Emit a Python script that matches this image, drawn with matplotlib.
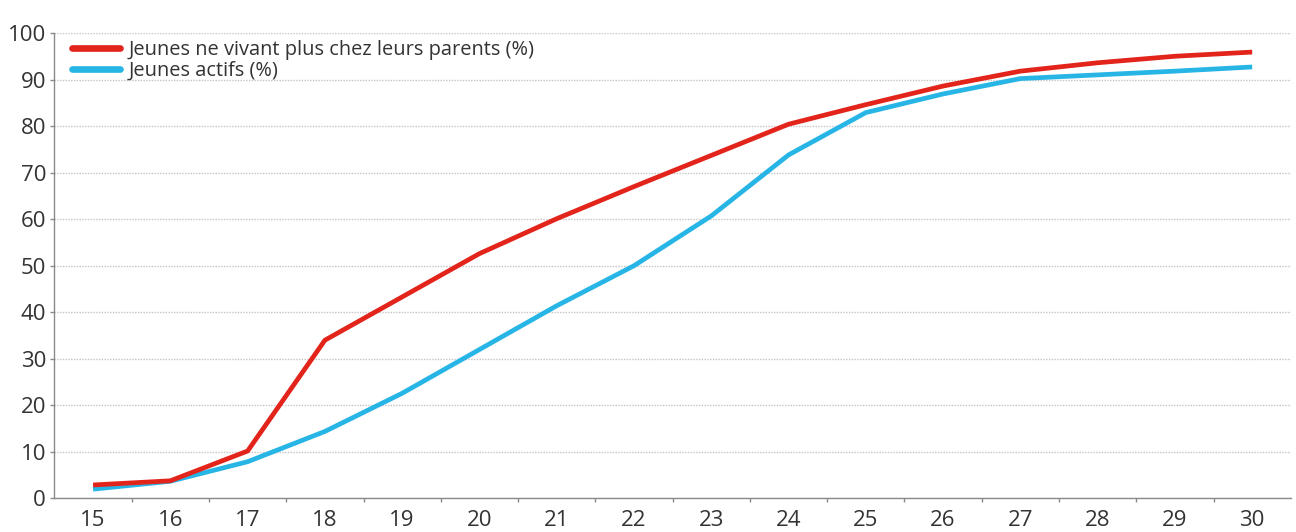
import numpy as np
import matplotlib
matplotlib.use("Agg")
import matplotlib.pyplot as plt
from matplotlib.ticker import FixedLocator

# Age (years)
ages = list(range(15, 31))

# Share of young people no longer living with their parents (%)
hors_parents = [2.9, 3.8, 10.2, 34.0, 43.3, 52.6, 60.1, 67.0, 73.7, 80.4,
                84.6, 88.6, 91.8, 93.6, 95.0, 95.9]

# Share of young people in the labour force (%)
actifs = [2.0, 3.7, 7.9, 14.4, 22.6, 32.0, 41.4, 50.0, 60.7, 73.8,
          82.9, 86.9, 90.2, 91.0, 91.8, 92.7]

serie_labels = ["Jeunes ne vivant plus chez leurs parents (%)", "Jeunes actifs (%)"]
y_ticks = list(range(0, 101, 10))

red = "#E2241B"
blue = "#27B5E6"
text_col = "#333333"
axis_col = "#8a8a8a"

plt.rcParams["font.family"] = ["Open Sans", "DejaVu Sans"]

fig = plt.figure(figsize=(12.96, 5.32), dpi=100)
ax = fig.add_axes([0.042, 0.063, 0.954, 0.875])

ax.plot(ages, actifs, color=blue, lw=3.4, solid_capstyle="butt", zorder=3)
ax.plot(ages, hors_parents, color=red, lw=3.4, solid_capstyle="butt", zorder=4)

ax.set_xlim(14.5, 30.5)
ax.set_ylim(0, 100)

# x labels sit on the ages, tick marks between them
ax.xaxis.set_major_locator(FixedLocator(ages))
ax.xaxis.set_minor_locator(FixedLocator([a + 0.5 for a in ages[:-1]]))
ax.tick_params(axis="x", which="major", length=0, pad=8, labelsize=16, labelcolor=text_col)
ax.tick_params(axis="x", which="minor", length=3, width=1, color=axis_col, direction="out")

ax.set_yticks(y_ticks)
ax.tick_params(axis="y", length=3, width=1, color=axis_col, pad=3, labelsize=16, labelcolor=text_col)

ax.grid(axis="y", linestyle=(0, (1, 1)), color="#c4c4c4", lw=1)
ax.set_axisbelow(True)

for side in ("top", "right"):
    ax.spines[side].set_visible(False)
for side in ("left", "bottom"):
    ax.spines[side].set_color(axis_col)
    ax.spines[side].set_linewidth(1)

# legend handles are drawn thicker than the curves
h1, = ax.plot([], [], color=red, lw=4.8, solid_capstyle="round")
h2, = ax.plot([], [], color=blue, lw=4.8, solid_capstyle="round")
leg = ax.legend([h1, h2], serie_labels, loc="upper left", bbox_to_anchor=(0.0142, 0.986),
                frameon=False, fontsize=14.4, handlelength=2.4, handletextpad=0.45,
                labelspacing=0.06, borderaxespad=0, borderpad=0)
for t in leg.get_texts():
    t.set_color(text_col)

fig.savefig("out.png", dpi=100, facecolor="white")
